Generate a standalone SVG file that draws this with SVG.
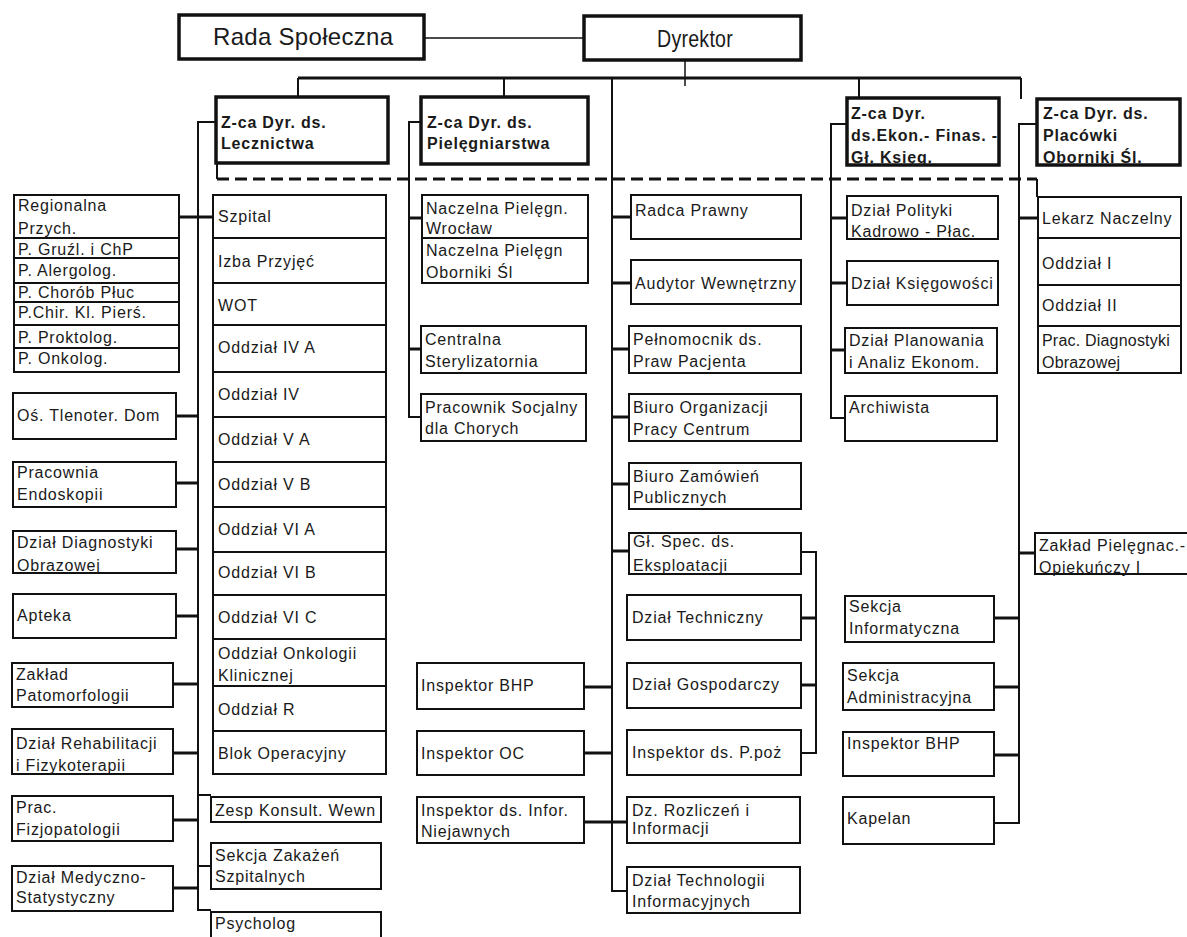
<svg xmlns="http://www.w3.org/2000/svg" width="1187" height="937" viewBox="0 0 1187 937">
<style>
.b{fill:#fff;stroke:#111;stroke-width:2}
.bt{fill:#fff;stroke:#111;stroke-width:3.5}
text{font-family:"Liberation Sans",Arial,sans-serif;font-size:16px;letter-spacing:0.8px;fill:#1a1a1a}
.tb{font-weight:bold}
.big{font-size:24px;letter-spacing:0.3px}
.c{stroke:#111;stroke-width:2;fill:none}
.c3{stroke:#111;stroke-width:3;fill:none}
.th{stroke:#111;stroke-width:1.5;fill:none}
.dash{stroke:#111;stroke-width:3;stroke-dasharray:12 6;fill:none}
</style>
<rect width="1187" height="937" fill="#fff"/>
<g id="connectors">
<line class="th" x1="424" y1="38" x2="584" y2="38"/>
<line class="th" x1="685" y1="60" x2="685" y2="86"/>
<line class="c3" x1="298" y1="78" x2="1021" y2="78"/>
<line class="c" x1="298" y1="78" x2="298" y2="97"/>
<line class="c" x1="504" y1="78" x2="504" y2="97"/>
<line class="c" x1="859" y1="78" x2="859" y2="98"/>
<line class="c" x1="1021" y1="78" x2="1021" y2="99"/>
<polyline class="c" points="612,78 612,891 627,891"/>
<line class="dash" x1="217" y1="179" x2="1037" y2="179"/>
<line class="c" x1="217" y1="163" x2="217" y2="179"/>
<line class="c" x1="1037" y1="179" x2="1037" y2="197"/>
<polyline class="c" points="216,122 198,122 198,910 211,910"/>
<line class="c3" x1="179" y1="217" x2="213" y2="217"/>
<line class="c3" x1="176" y1="416" x2="198" y2="416"/>
<line class="c3" x1="176" y1="483" x2="198" y2="483"/>
<line class="c3" x1="176" y1="549" x2="198" y2="549"/>
<line class="c3" x1="176" y1="616" x2="198" y2="616"/>
<line class="c3" x1="173" y1="684" x2="198" y2="684"/>
<line class="c3" x1="173" y1="753" x2="198" y2="753"/>
<line class="c3" x1="173" y1="820" x2="198" y2="820"/>
<line class="c3" x1="173" y1="888" x2="198" y2="888"/>
<line class="c" x1="198" y1="795" x2="211" y2="795"/>
<line class="c" x1="198" y1="866" x2="211" y2="866"/>
<polyline class="c" points="421,122 409,122 409,417 421,417"/>
<line class="c3" x1="409" y1="218" x2="422" y2="218"/>
<line class="c3" x1="409" y1="349" x2="421" y2="349"/>
<line class="c3" x1="612" y1="217" x2="631" y2="217"/>
<line class="c3" x1="612" y1="283" x2="631" y2="283"/>
<line class="c3" x1="612" y1="349" x2="629" y2="349"/>
<line class="c3" x1="612" y1="417" x2="629" y2="417"/>
<line class="c3" x1="612" y1="484" x2="629" y2="484"/>
<line class="c3" x1="612" y1="551" x2="629" y2="551"/>
<line class="c3" x1="584" y1="687" x2="612" y2="687"/>
<line class="c3" x1="584" y1="753" x2="612" y2="753"/>
<line class="c3" x1="584" y1="822" x2="627" y2="822"/>
<polyline class="c" points="801,552 816,552 816,753 801,753"/>
<line class="c3" x1="801" y1="618" x2="816" y2="618"/>
<line class="c3" x1="801" y1="685" x2="816" y2="685"/>
<polyline class="c" points="847,124 831,124 831,418 845,418"/>
<line class="c3" x1="831" y1="218" x2="847" y2="218"/>
<line class="c3" x1="831" y1="283" x2="847" y2="283"/>
<line class="c3" x1="831" y1="350" x2="845" y2="350"/>
<polyline class="c" points="1037,124 1019,124 1019,823 994,823"/>
<line class="c3" x1="1019" y1="218" x2="1038" y2="218"/>
<line class="c3" x1="1019" y1="553" x2="1035" y2="553"/>
<line class="c3" x1="994" y1="618" x2="1019" y2="618"/>
<line class="c3" x1="994" y1="687" x2="1019" y2="687"/>
<line class="c3" x1="994" y1="755" x2="1019" y2="755"/>
</g>
<g id="rada"><rect class="bt" x="179" y="15" width="245" height="44"/><text class="big" x="213" y="45">Rada Społeczna</text></g>
<g id="dyrektor"><rect class="bt" x="584" y="16" width="217" height="44"/><text class="big" x="657" y="47" font-size="25" textLength="76" lengthAdjust="spacingAndGlyphs">Dyrektor</text></g>
<g id="zca-lecznictwa"><rect class="bt" x="216" y="97" width="172" height="66"/><text class="tb"><tspan x="221" y="128">Z-ca Dyr. ds.</tspan><tspan x="221" y="149">Lecznictwa</tspan></text></g>
<g id="zca-pielegniarstwa"><rect class="bt" x="421" y="97" width="167" height="67"/><text class="tb"><tspan x="427" y="128">Z-ca Dyr. ds.</tspan><tspan x="427" y="149">Pielęgniarstwa</tspan></text></g>
<g id="zca-ekon"><rect class="bt" x="847" y="98" width="152" height="67"/><text class="tb"><tspan x="851" y="119">Z-ca Dyr.</tspan><tspan x="851" y="141">ds.Ekon.- Finas. -</tspan><tspan x="851" y="163">Gł. Księg.</tspan></text></g>
<g id="zca-placowki"><rect class="bt" x="1037" y="99" width="143" height="66"/><text class="tb"><tspan x="1043" y="119">Z-ca Dyr. ds.</tspan><tspan x="1043" y="141">Placówki</tspan><tspan x="1043" y="163">Oborniki Śl.</tspan></text></g>

<g id="regionalna"><rect class="b" x="14" y="195" width="165" height="43"/><text><tspan x="18" y="211">Regionalna</tspan><tspan x="18" y="234">Przych.</tspan></text></g>
<g id="p-gruzl"><rect class="b" x="14" y="238" width="165" height="20"/><text x="18" y="255">P. Gruźl. i ChP</text></g>
<g id="p-alergolog"><rect class="b" x="14" y="258" width="165" height="25"/><text x="18" y="276">P. Alergolog.</text></g>
<g id="p-chorob"><rect class="b" x="14" y="283" width="165" height="19"/><text x="18" y="298">P. Chorób Płuc</text></g>
<g id="p-chir"><rect class="b" x="14" y="302" width="165" height="23"/><text x="18" y="318">P.Chir. Kl. Pierś.</text></g>
<g id="p-proktolog"><rect class="b" x="14" y="325" width="165" height="23"/><text x="18" y="343">P. Proktolog.</text></g>
<g id="p-onkolog"><rect class="b" x="14" y="348" width="165" height="24"/><text x="18" y="364">P. Onkolog.</text></g>
<g id="tlenoter"><rect class="b" x="13" y="393" width="163" height="46"/><text x="17" y="421">Oś. Tlenoter. Dom</text></g>
<g id="endoskopii"><rect class="b" x="13" y="462" width="163" height="45"/><text><tspan x="17" y="478">Pracownia</tspan><tspan x="17" y="500">Endoskopii</tspan></text></g>
<g id="diagnostyki"><rect class="b" x="13" y="531" width="163" height="42"/><text><tspan x="17" y="548">Dział Diagnostyki</tspan><tspan x="17" y="571">Obrazowej</tspan></text></g>
<g id="apteka"><rect class="b" x="13" y="594" width="163" height="44"/><text x="17" y="621">Apteka</text></g>
<g id="patomorfologii"><rect class="b" x="12" y="663" width="161" height="44"/><text><tspan x="16" y="680">Zakład</tspan><tspan x="16" y="701">Patomorfologii</tspan></text></g>
<g id="rehabilitacji"><rect class="b" x="12" y="729" width="161" height="45"/><text><tspan x="16" y="749">Dział Rehabilitacji</tspan><tspan x="16" y="771">i Fizykoterapii</tspan></text></g>
<g id="fizjopatologii"><rect class="b" x="12" y="796" width="161" height="45"/><text><tspan x="16" y="813">Prac.</tspan><tspan x="16" y="835">Fizjopatologii</tspan></text></g>
<g id="medyczno"><rect class="b" x="12" y="866" width="161" height="45"/><text><tspan x="16" y="883">Dział Medyczno-</tspan><tspan x="16" y="903">Statystyczny</tspan></text></g>

<g id="szpital"><rect class="b" x="213" y="195" width="173" height="43"/><text x="218" y="222">Szpital</text></g>
<g id="izba"><rect class="b" x="213" y="238" width="173" height="45"/><text x="218" y="267">Izba Przyjęć</text></g>
<g id="wot"><rect class="b" x="213" y="283" width="173" height="42"/><text x="218" y="311">WOT</text></g>
<g id="oddz-iva"><rect class="b" x="213" y="325" width="173" height="47"/><text x="218" y="353">Oddział IV A</text></g>
<g id="oddz-iv"><rect class="b" x="213" y="372" width="173" height="45"/><text x="218" y="400">Oddział IV</text></g>
<g id="oddz-va"><rect class="b" x="213" y="417" width="173" height="45"/><text x="218" y="445">Oddział V A</text></g>
<g id="oddz-vb"><rect class="b" x="213" y="462" width="173" height="45"/><text x="218" y="490">Oddział V B</text></g>
<g id="oddz-via"><rect class="b" x="213" y="507" width="173" height="45"/><text x="218" y="535">Oddział VI A</text></g>
<g id="oddz-vib"><rect class="b" x="213" y="552" width="173" height="43"/><text x="218" y="578">Oddział VI B</text></g>
<g id="oddz-vic"><rect class="b" x="213" y="595" width="173" height="44"/><text x="218" y="623">Oddział VI C</text></g>
<g id="onkologii"><rect class="b" x="213" y="639" width="173" height="47"/><text><tspan x="218" y="659">Oddział Onkologii</tspan><tspan x="218" y="681">Klinicznej</tspan></text></g>
<g id="oddz-r"><rect class="b" x="213" y="686" width="173" height="45"/><text x="218" y="715">Oddział R</text></g>
<g id="blok"><rect class="b" x="213" y="731" width="173" height="43"/><text x="218" y="759">Blok Operacyjny</text></g>
<g id="zesp"><rect class="b" x="211" y="797" width="170" height="25"/><text x="215" y="816">Zesp Konsult. Wewn</text></g>
<g id="zakazen"><rect class="b" x="211" y="843" width="170" height="46"/><text><tspan x="215" y="861">Sekcja Zakażeń</tspan><tspan x="215" y="882">Szpitalnych</tspan></text></g>
<g id="psycholog"><rect class="b" x="211" y="912" width="170" height="40"/><text x="215" y="929">Psycholog</text></g>

<g id="naczelna-wroclaw"><rect class="b" x="422" y="195" width="166" height="43"/><text><tspan x="426" y="214">Naczelna Pielęgn.</tspan><tspan x="426" y="234">Wrocław</tspan></text></g>
<g id="naczelna-oborniki"><rect class="b" x="422" y="238" width="166" height="45"/><text><tspan x="426" y="256">Naczelna Pielęgn</tspan><tspan x="426" y="278">Oborniki Śl</tspan></text></g>
<g id="sterylizatornia"><rect class="b" x="421" y="326" width="165" height="47"/><text><tspan x="425" y="345">Centralna</tspan><tspan x="425" y="367">Sterylizatornia</tspan></text></g>
<g id="socjalny"><rect class="b" x="421" y="394" width="165" height="47"/><text><tspan x="425" y="413">Pracownik Socjalny</tspan><tspan x="425" y="434">dla Chorych</tspan></text></g>
<g id="insp-bhp-1"><rect class="b" x="417" y="663" width="167" height="46"/><text x="421" y="691">Inspektor BHP</text></g>
<g id="insp-oc"><rect class="b" x="417" y="731" width="167" height="44"/><text x="421" y="759">Inspektor OC</text></g>
<g id="insp-infor"><rect class="b" x="417" y="797" width="167" height="46"/><text><tspan x="421" y="816">Inspektor ds. Infor.</tspan><tspan x="421" y="837">Niejawnych</tspan></text></g>

<g id="radca"><rect class="b" x="631" y="195" width="170" height="44"/><text x="635" y="216">Radca Prawny</text></g>
<g id="audytor"><rect class="b" x="631" y="260" width="170" height="44"/><text x="635" y="289">Audytor Wewnętrzny</text></g>
<g id="pelnomocnik"><rect class="b" x="629" y="326" width="172" height="47"/><text><tspan x="633" y="345">Pełnomocnik ds.</tspan><tspan x="633" y="367">Praw Pacjenta</tspan></text></g>
<g id="biuro-org"><rect class="b" x="629" y="394" width="172" height="47"/><text><tspan x="633" y="413">Biuro Organizacji</tspan><tspan x="633" y="435">Pracy Centrum</tspan></text></g>
<g id="biuro-zam"><rect class="b" x="629" y="463" width="172" height="46"/><text><tspan x="633" y="482">Biuro Zamówień</tspan><tspan x="633" y="503">Publicznych</tspan></text></g>
<g id="gl-spec"><rect class="b" x="629" y="533" width="172" height="41"/><text><tspan x="633" y="547">Gł. Spec. ds.</tspan><tspan x="633" y="571">Eksploatacji</tspan></text></g>
<g id="techniczny"><rect class="b" x="627" y="595" width="174" height="45"/><text x="632" y="623">Dział Techniczny</text></g>
<g id="gospodarczy"><rect class="b" x="627" y="663" width="174" height="45"/><text x="632" y="690">Dział Gospodarczy</text></g>
<g id="ppoz"><rect class="b" x="627" y="730" width="174" height="45"/><text x="632" y="758">Inspektor ds. P.poż</text></g>
<g id="rozliczen"><rect class="b" x="627" y="797" width="173" height="46"/><text><tspan x="632" y="816">Dz. Rozliczeń i</tspan><tspan x="632" y="834">Informacji</tspan></text></g>
<g id="technologii"><rect class="b" x="627" y="867" width="173" height="46"/><text><tspan x="632" y="886">Dział Technologii</tspan><tspan x="632" y="907">Informacyjnych</tspan></text></g>

<g id="kadrowo"><rect class="b" x="847" y="196" width="151" height="43"/><text><tspan x="851" y="216">Dział Polityki</tspan><tspan x="851" y="237">Kadrowo - Płac.</tspan></text></g>
<g id="ksiegowosci"><rect class="b" x="847" y="261" width="151" height="44"/><text x="851" y="289">Dział Księgowości</text></g>
<g id="planowania"><rect class="b" x="845" y="328" width="152" height="45"/><text><tspan x="849" y="346">Dział Planowania</tspan><tspan x="849" y="368">i Analiz Ekonom.</tspan></text></g>
<g id="archiwista"><rect class="b" x="845" y="396" width="152" height="45"/><text x="849" y="413">Archiwista</text></g>
<g id="informatyczna"><rect class="b" x="845" y="596" width="149" height="46"/><text><tspan x="849" y="612">Sekcja</tspan><tspan x="849" y="634">Informatyczna</tspan></text></g>
<g id="administracyjna"><rect class="b" x="843" y="663" width="151" height="47"/><text><tspan x="847" y="681">Sekcja</tspan><tspan x="847" y="703">Administracyjna</tspan></text></g>
<g id="insp-bhp-2"><rect class="b" x="843" y="732" width="151" height="44"/><text x="847" y="749">Inspektor BHP</text></g>
<g id="kapelan"><rect class="b" x="843" y="797" width="151" height="47"/><text x="847" y="824">Kapelan</text></g>

<g id="lekarz"><rect class="b" x="1038" y="197" width="143" height="41"/><text x="1042" y="224">Lekarz Naczelny</text></g>
<g id="oddz-i"><rect class="b" x="1038" y="238" width="143" height="47"/><text x="1042" y="269">Oddział I</text></g>
<g id="oddz-ii"><rect class="b" x="1038" y="285" width="143" height="41"/><text x="1042" y="311">Oddział II</text></g>
<g id="prac-diag"><rect class="b" x="1038" y="326" width="143" height="47"/><text style="letter-spacing:0.2px"><tspan x="1042" y="346">Prac. Diagnostyki</tspan><tspan x="1042" y="368">Obrazowej</tspan></text></g>
<g id="zaklad-piel"><rect class="b" x="1035" y="533" width="160" height="41"/><text><tspan x="1039" y="551">Zakład Pielęgnac.-</tspan><tspan x="1039" y="573">Opiekuńczy I</tspan></text></g>
</svg>
